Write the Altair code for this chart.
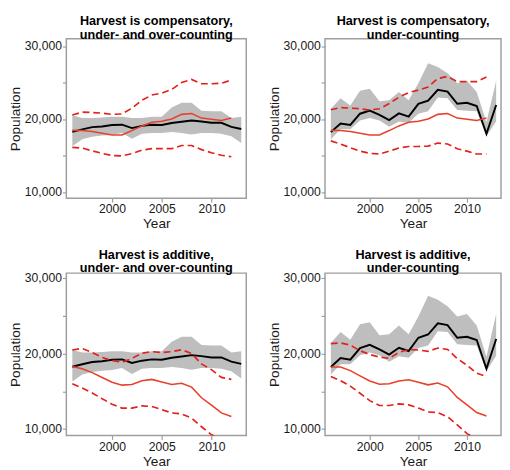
import altair as alt
import pandas as pd

years = list(range(1996, 2014))
red_years = list(range(1996, 2013))

titles = [
    ["Harvest is compensatory,", "under- and over-counting"],
    ["Harvest is compensatory,", "under-counting"],
    ["Harvest is additive,", "under- and over-counting"],
    ["Harvest is additive,", "under-counting"],
]

# black median line and grey band: under- and over-counting
black_uo = [18250, 18590, 18890, 18980, 19190, 19230, 18760, 19060, 19230, 19190,
            19450, 19620, 19790, 19660, 19490, 19490, 18930, 18630]
band_uo_hi = [20510, 20130, 20130, 20210, 20300, 20300, 20130, 20130, 20300, 20300,
              21580, 22220, 22220, 21150, 21070, 21070, 20130, 20300]
band_uo_lo = [16290, 17230, 17570, 17740, 17820, 18080, 17310, 17990, 18080, 18080,
              18210, 18080, 17870, 18080, 18080, 17990, 17650, 16710]

# black median line and grey band: under-counting
black_u = [18210, 19400, 19190, 20730, 21150, 20560, 19870, 20770, 20340, 22090,
           22520, 24010, 23760, 22090, 22220, 21790, 17990, 21920]
band_u_hi = [21410, 22860, 21840, 23890, 24140, 22430, 22560, 23710, 22560, 24910,
             27640, 27130, 26280, 24910, 25250, 23710, 19570, 25250]
band_u_lo = [17220, 18590, 18590, 19790, 20130, 19790, 18930, 19660, 19450, 20730,
             21070, 22950, 22860, 21240, 21150, 21070, 17650, 19700]

# red lines, compensatory
red_comp = [18450, 18420, 18290, 18040, 17820, 17820, 18420, 19060, 19570, 19700,
            20000, 20640, 20770, 20130, 19960, 19790, 20130]
red_comp_uo_hi = [20560, 20940, 20900, 20810, 20640, 20700, 21490, 22560, 23290, 23540,
                  24060, 25000, 25420, 24830, 24830, 24900, 25340]
red_comp_uo_lo = [16110, 16030, 15640, 15300, 15000, 14960, 15260, 15730, 15940, 15940,
                  15940, 16370, 16370, 15810, 15390, 15040, 14830]
red_comp_u_hi = [21280, 21580, 21500, 21410, 21240, 21410, 22130, 22990, 23630, 23970,
                 24400, 25550, 25850, 25120, 25120, 25120, 25760]
red_comp_u_lo = [17010, 16580, 16070, 15600, 15300, 15210, 15600, 16030, 16240, 16240,
                 16290, 16710, 16580, 15940, 15600, 15210, 15210]

# red lines, additive
red_add_uo = [18290, 17990, 17480, 16840, 16200, 15820, 15900, 16410, 16580, 16240,
              15900, 16070, 15560, 14150, 13170, 12140, 11670]
red_add_uo_hi = [20470, 20680, 20130, 19490, 19060, 18850, 19360, 20040, 20260, 20130,
                 20260, 20510, 20000, 18630, 17870, 16840, 16580]
red_add_uo_lo = [15990, 15430, 14790, 14020, 13300, 12780, 12780, 13080, 13000, 12570,
                 12140, 12010, 11460, 10310, 9240, 8700, 8300]
red_add_u = [18210, 18210, 17740, 17050, 16370, 15940, 15990, 16370, 16540, 16200,
             15860, 16110, 15600, 14190, 13210, 12190, 11720]
red_add_u_hi = [21320, 21410, 21110, 20380, 19870, 19530, 19360, 20170, 20550, 20470,
                20300, 20730, 20550, 19320, 18460, 17400, 16970]
red_add_u_lo = [16970, 16410, 15690, 14750, 13770, 13130, 13130, 13340, 13210, 12780,
                12270, 12190, 11630, 10560, 9400, 8800, 8400]

y_ticks = [10000, 15000, 20000, 25000, 30000]
x_ticks = [2000, 2005, 2010]

GREY = "#bebebe"
RED_SOLID = "#e8412b"
RED_DASH = "#e3211c"


def panel(title, black, hi, lo, red, red_hi, red_lo, ydom, w, h):
    dfb = pd.DataFrame({"Year": years, "med": black, "hi": hi, "lo": lo})
    dfr = pd.DataFrame({"Year": red_years, "red": red})
    dfd = pd.DataFrame({
        "Year": red_years + red_years,
        "val": red_hi + red_lo,
        "s": ["hi"] * len(red_years) + ["lo"] * len(red_years),
    })
    xs = alt.Scale(domain=[1995.4, 2013.5], nice=False, zero=False)
    ys = alt.Scale(domain=ydom, nice=False, zero=False)
    xax = alt.Axis(values=x_ticks, format="d", title="Year")
    yax = alt.Axis(values=y_ticks, title="Population",
                   labelExpr="datum.value % 10000 === 0 ? format(datum.value, ',') : ''")
    band = alt.Chart(dfb).mark_area(color=GREY, opacity=1, clip=True).encode(
        x=alt.X("Year:Q", scale=xs, axis=xax),
        y=alt.Y("lo:Q", scale=ys, axis=yax),
        y2="hi:Q",
    )
    med = alt.Chart(dfb).mark_line(color="black", strokeWidth=2, clip=True).encode(
        x="Year:Q", y="med:Q")
    rl = alt.Chart(dfr).mark_line(color=RED_SOLID, strokeWidth=1.6, clip=True).encode(
        x="Year:Q", y="red:Q")
    dl = alt.Chart(dfd).mark_line(color=RED_DASH, strokeWidth=1.7, strokeDash=[7, 4],
                                  clip=True).encode(
        x="Year:Q", y="val:Q", detail="s:N")
    return alt.layer(band, med, rl, dl).properties(
        width=w, height=h,
        title=alt.TitleParams(title, fontSize=13, fontWeight="bold", anchor="middle",
                              frame="group", offset=-3, lineHeight=14, color="black"),
    )


top_dom = [9150, 31000]
bot_dom = [9150, 30650]

p1 = panel(titles[0], black_uo, band_uo_hi, band_uo_lo, red_comp, red_comp_uo_hi, red_comp_uo_lo, top_dom, 185, 164)
p2 = panel(titles[1], black_u, band_u_hi, band_u_lo, red_comp, red_comp_u_hi, red_comp_u_lo, top_dom, 181, 164)
p3 = panel(titles[2], black_uo, band_uo_hi, band_uo_lo, red_add_uo, red_add_uo_hi, red_add_uo_lo, bot_dom, 185, 167)
p4 = panel(titles[3], black_u, band_u_hi, band_u_lo, red_add_u, red_add_u_hi, red_add_u_lo, bot_dom, 181, 167)

chart = alt.vconcat(
    alt.hconcat(p1, p2, spacing=20),
    alt.hconcat(p3, p4, spacing=20),
    spacing=16,
).properties(padding=0).configure(
    font="Liberation Sans",
).configure_view(
    stroke="#9e9e9e", strokeWidth=1.5,
).configure_axis(
    grid=False, domain=False, tickColor="#9e9e9e", tickSize=4, tickWidth=1.2,
    labelFontSize=12.5, labelColor="#1a1a1a", labelPadding=1,
    titleFontSize=14, titleFontWeight="normal", titleColor="#1a1a1a", titlePadding=2,
)

chart.save("out.html", embed_options={"renderer": "svg", "actions": False})
